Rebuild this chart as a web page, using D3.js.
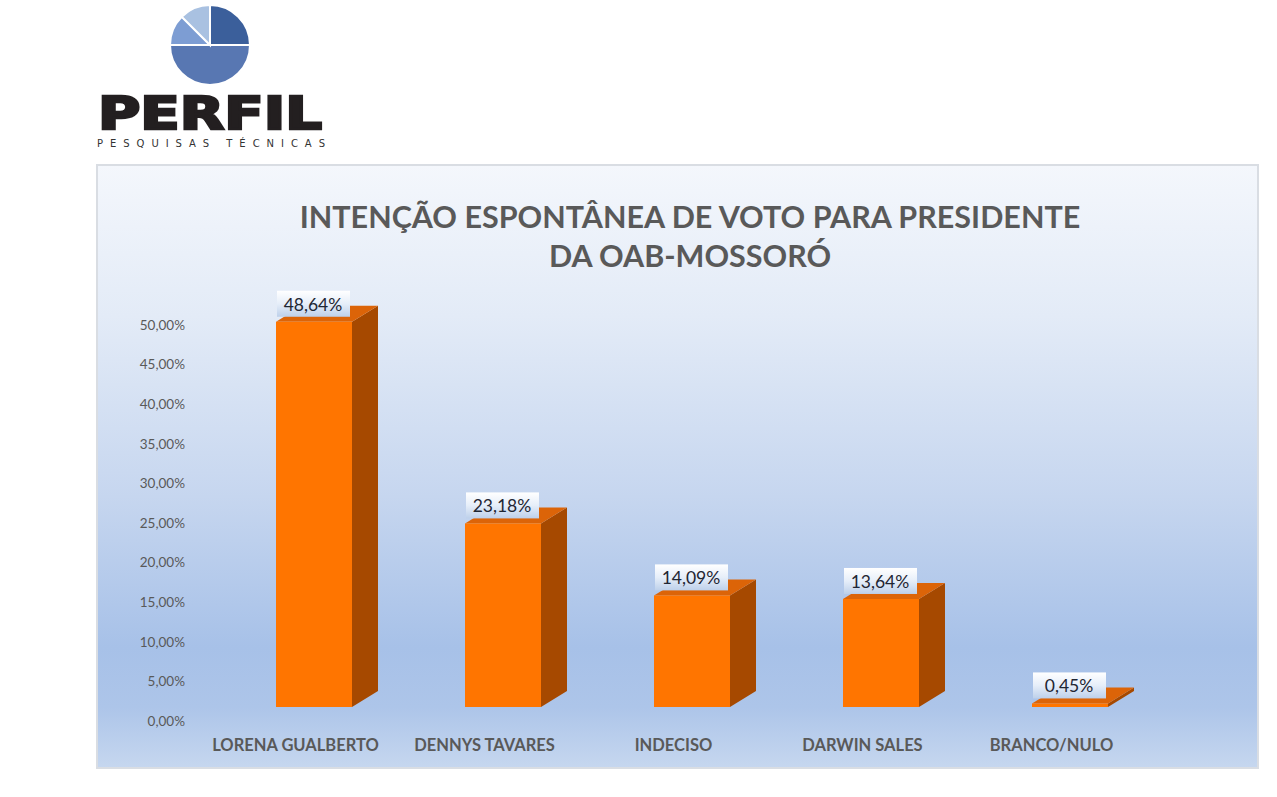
<!DOCTYPE html>
<html>
<head>
  <title>Intenção espontânea de voto - OAB Mossoró</title>
  <script src="https://d3js.org/d3.v7.min.js"></script>
  <style>
    body { margin: 0; background: #fff; }
    svg { font-family: Lato, "Open Sans", sans-serif; display: block; }
  </style>
</head>
<body>
  <svg width="1277" height="797"></svg>

  <script>
    const categories = ["LORENA GUALBERTO", "DENNYS TAVARES", "INDECISO", "DARWIN SALES", "BRANCO/NULO"];
    const values = [48.64, 23.18, 14.09, 13.64, 0.45];
    const valueLabels = ["48,64%", "23,18%", "14,09%", "13,64%", "0,45%"];
    const tickValues = [0, 5, 10, 15, 20, 25, 30, 35, 40, 45, 50];
    const titleLines = ["INTENÇÃO ESPONTÂNEA DE VOTO PARA PRESIDENTE", "DA OAB-MOSSORÓ"];

    const svg = d3.select("svg");
    const defs = svg.append("defs");

    // chart background gradient
    const bg = defs.append("linearGradient").attr("id", "bg")
      .attr("x1", 0).attr("y1", 0).attr("x2", 0).attr("y2", 1);
    [[0, "#f4f7fc"], [0.25, "#e3ebf7"], [0.55, "#c6d6ef"], [0.8, "#a7c1e8"], [0.9, "#adc5e9"], [1, "#c6d7ef"]]
      .forEach(s => bg.append("stop").attr("offset", s[0]).attr("stop-color", s[1]));

    const lbl = defs.append("linearGradient").attr("id", "lbl")
      .attr("x1", 0).attr("y1", 0).attr("x2", 0).attr("y2", 1);
    [[0, "#ffffff"], [0.5, "#e6eef9"], [1, "#bdd0ea"]]
      .forEach(s => lbl.append("stop").attr("offset", s[0]).attr("stop-color", s[1]));

    // logo
    const logoSlices = [
      { a0: 0, a1: 90, color: "#3b5f9b" },
      { a0: 90, a1: 270, color: "#5877b2" },
      { a0: 270, a1: 315, color: "#7d9dd3" },
      { a0: 315, a1: 360, color: "#a9c1e1" }
    ];
    const arc = d3.arc().innerRadius(0).outerRadius(40);
    const logo = svg.append("g").attr("transform", "translate(210,45)");
    logo.selectAll("path").data(logoSlices).join("path")
      .attr("d", d => arc({ startAngle: d.a0 * Math.PI / 180, endAngle: d.a1 * Math.PI / 180 }))
      .attr("fill", d => d.color)
      .attr("stroke", "#fff").attr("stroke-width", 2);

    svg.append("text")
      .attr("x", 98).attr("y", 129)
      .attr("textLength", 224).attr("lengthAdjust", "spacingAndGlyphs")
      .style("font-family", "'DejaVu Sans', sans-serif")
      .style("font-weight", "bold").style("font-size", "44px")
      .attr("fill", "#231f20").attr("stroke", "#231f20").attr("stroke-width", 2.5)
      .attr("stroke-linejoin", "miter")
      .text("PERFIL");

    svg.append("text")
      .attr("x", 97).attr("y", 147)
      .attr("textLength", 228).attr("lengthAdjust", "spacing")
      .style("font-family", "'DejaVu Sans', sans-serif")
      .style("font-size", "10px")
      .attr("fill", "#333")
      .text("PESQUISAS TÉCNICAS");

    // chart area
    svg.append("rect")
      .attr("x", 97).attr("y", 165).attr("width", 1161).attr("height", 603)
      .attr("fill", "url(#bg)").attr("stroke", "#d9dde3").attr("stroke-width", 2);

    svg.append("g").selectAll("text").data(titleLines).join("text")
      .attr("x", 690).attr("y", (d, i) => 228 + i * 39)
      .attr("text-anchor", "middle")
      .style("font-size", "30.5px").style("font-weight", "bold")
      .attr("fill", "#595959")
      .text(d => d);

    const x = d3.scalePoint().domain(categories).range([314, 1070]);
    const y = d3.scaleLinear().domain([0, 50]).range([721, 325]);

    const barW = 76, dx = 26, dy = -16, lift = 14;

    // y axis
    const yAxis = svg.append("g")
      .attr("transform", "translate(189,0)")
      .call(d3.axisLeft(y).tickValues(tickValues).tickSize(0).tickPadding(4)
        .tickFormat(d => d.toFixed(2).replace(".", ",") + "%"));
    yAxis.select(".domain").remove();
    yAxis.selectAll("text")
      .style("font-family", "Lato, sans-serif").style("font-size", "13.5px").attr("fill", "#595959");

    // x axis
    const xAxis = svg.append("g")
      .attr("transform", "translate(-19,736)")
      .call(d3.axisBottom(x).tickSize(0).tickPadding(3));
    xAxis.select(".domain").remove();
    xAxis.selectAll("text")
      .style("font-family", "Lato, sans-serif").style("font-size", "16.5px").style("font-weight", "bold")
      .attr("fill", "#595959");

    // 3D bars
    const bars = svg.append("g").selectAll("g")
      .data(categories.map((c, i) => ({ c, v: values[i], label: valueLabels[i] })))
      .join("g");

    const barLeft = d => x(d.c) - barW / 2;
    const barRight = d => x(d.c) + barW / 2;
    const barTop = d => y(d.v) - lift;
    const barBase = y(0) - lift;

    // side face
    bars.append("path")
      .attr("fill", "#a64900")
      .attr("d", d => `M${barRight(d)},${barTop(d)} L${barRight(d) + dx},${barTop(d) + dy} L${barRight(d) + dx},${barBase + dy} L${barRight(d)},${barBase} Z`);

    // top face
    bars.append("path")
      .attr("fill", "#dc6408")
      .attr("d", d => `M${barLeft(d)},${barTop(d)} L${barRight(d)},${barTop(d)} L${barRight(d) + dx},${barTop(d) + dy} L${barLeft(d) + dx},${barTop(d) + dy} Z`);

    // front face
    bars.append("rect")
      .attr("x", barLeft).attr("y", barTop)
      .attr("width", barW).attr("height", d => barBase - barTop(d))
      .attr("fill", "#ff7500");

    // value labels
    bars.append("rect")
      .attr("x", d => barLeft(d) + 1).attr("y", d => barTop(d) - 31)
      .attr("width", barW - 3).attr("height", 26)
      .attr("fill", "url(#lbl)");

    bars.append("text")
      .attr("x", d => x(d.c) - 1).attr("y", d => barTop(d) - 11)
      .attr("text-anchor", "middle")
      .style("font-family", "Lato, sans-serif").style("font-size", "17.5px")
      .attr("fill", "#1f2633")
      .text(d => d.label);
  </script>
</body>
</html>
